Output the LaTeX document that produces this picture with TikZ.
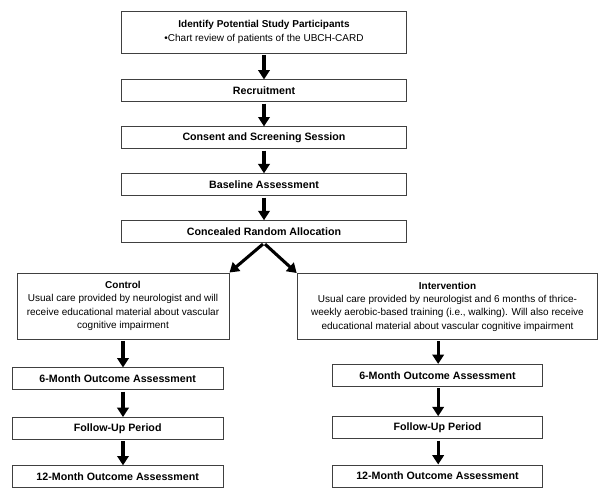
\documentclass[tikz,border=0pt]{standalone}
\usepackage{fontspec}
\setmainfont{Liberation Sans}
\usetikzlibrary{arrows.meta, positioning}

\begin{document}
\begin{tikzpicture}[
        x=0.75pt, y=-0.75pt,
        stage/.style={rectangle, draw=black!75, line width=0.7pt, minimum width=214pt, minimum height=16.5pt, inner sep=1pt, align=center, font=\fontsize{8}{9.5}\selectfont\bfseries},
        group/.style={rectangle, draw=black!75, line width=0.7pt, minimum height=49.5pt, inner sep=1pt, align=center, font=\fontsize{7.5}{10}\selectfont},
        arrow/.style={-{Triangle[width=8.5pt, length=7pt]}, line width=2.3pt, shorten <=1pt}
    ]
    \useasboundingbox (0,0) rectangle (600,499);

    % Screening
    \node (ident) [stage, minimum height=31.5pt, font=\fontsize{7.5}{10}\selectfont] at (264,32) {\textbf{Identify Potential Study Participants}\\\textbullet Chart review of patients of the UBCH-CARD};
    \node (recr) [stage, below=19.5pt of ident] {Recruitment};
    \node (cons) [stage, below=18pt of recr] {Consent and Screening Session};
    \node (base) [stage, below=18pt of cons] {Baseline Assessment};
    \node (alloc) [stage, below=18pt of base] {Concealed Random Allocation};

    % Groups
    \node (ctrl) [group, minimum width=159pt] at (123,306) {\textbf{Control}\\Usual care provided by neurologist and will\\receive educational material about vascular\\cognitive impairment};
    \node (intv) [group, minimum width=225.5pt] at (447.5,306.5) {\textbf{Intervention}\\Usual care provided by neurologist and 6 months of thrice-\\weekly aerobic-based training (i.e., walking). Will also receive\\educational material about vascular cognitive impairment};

    \node (c6) [stage, minimum width=158pt, below=21pt of ctrl, xshift=-4pt] {6-Month Outcome Assessment};
    \node (cfu) [stage, minimum width=158pt, below=20pt of c6] {Follow-Up Period};
    \node (c12) [stage, minimum width=158pt, below=19pt of cfu] {12-Month Outcome Assessment};

    \node (i6) [stage, minimum width=158pt, below=18pt of intv, xshift=-7.5pt] {6-Month Outcome Assessment};
    \node (ifu) [stage, minimum width=158pt, below=22pt of i6] {Follow-Up Period};
    \node (i12) [stage, minimum width=158pt, below=19pt of ifu] {12-Month Outcome Assessment};

    % Flow
    \draw [arrow] (ident) -- (recr);
    \draw [arrow] (recr) -- (cons);
    \draw [arrow] (cons) -- (base);
    \draw [arrow] (base) -- (alloc);
    \draw [arrow] (alloc.south) -- (ctrl.north east);
    \draw [arrow] (alloc.south) -- (intv.north west);

    % Control arm
    \draw [arrow] (ctrl.south) -- (ctrl.south |- c6.north);
    \draw [arrow] (ctrl.south |- c6.south) -- (ctrl.south |- cfu.north);
    \draw [arrow] (ctrl.south |- cfu.south) -- (ctrl.south |- c12.north);

    % Intervention arm
    \draw [arrow] ([xshift=-7pt]intv.south) -- ([xshift=-7pt]intv.south |- i6.north);
    \draw [arrow] ([xshift=-7pt]intv.south |- i6.south) -- ([xshift=-7pt]intv.south |- ifu.north);
    \draw [arrow] ([xshift=-7pt]intv.south |- ifu.south) -- ([xshift=-7pt]intv.south |- i12.north);
\end{tikzpicture}
\end{document}
